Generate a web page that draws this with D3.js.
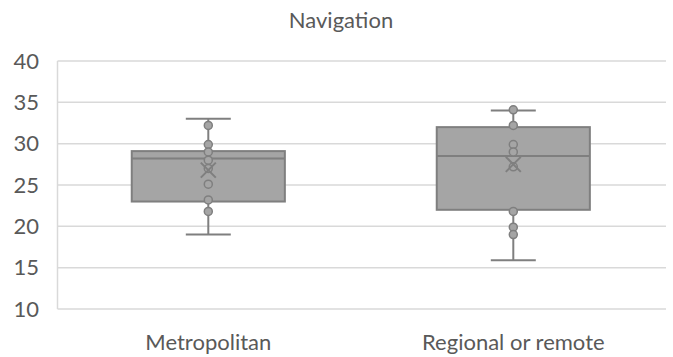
<!DOCTYPE html>
<html>
<head>
<meta charset="utf-8">
<script src="https://cdn.jsdelivr.net/npm/d3@7"></script>
<style>
  html, body { margin: 0; padding: 0; background: #fff; }
  svg { display: block; }
  text { font-family: Lato, "Open Sans", sans-serif; fill: #595959; }
</style>
</head>
<body>
<svg id="chart" width="673" height="357"></svg>
<script>
// Navigation scores by location
const categories = ["Metropolitan", "Regional or remote"];
const whiskerLow  = [19, 15.9];
const quartile1   = [23, 22];
const medians     = [28.2, 28.5];
const quartile3   = [29.1, 32];
const whiskerHigh = [33, 34];
const means       = [26.8, 27.5];
const pointsMetro    = [32.2, 29.9, 29, 28, 27, 25.1, 23.2, 21.8];
const pointsRegional = [34.1, 32.2, 29.9, 29, 27.2, 21.8, 19.9, 19];
const yTicks = [10, 15, 20, 25, 30, 35, 40];
const title = "Navigation";

const boxes = categories.map((c, i) => ({
  cat: c,
  lo: whiskerLow[i], q1: quartile1[i], med: medians[i],
  q3: quartile3[i], hi: whiskerHigh[i], mean: means[i],
  pts: i === 0 ? pointsMetro : pointsRegional
}));

const svg = d3.select("#chart");
const plotLeft = 57.5, plotRight = 666, plotTop = 61, plotBottom = 309;

const x = d3.scaleBand().domain(categories).range([55.8, 665.8]).padding(0);
const y = d3.scaleLinear().domain([10, 40]).range([plotBottom, plotTop]);

const ink = "#7f7f7f", fill = "#a5a5a5", grid = "#d9d9d9";

// title
svg.append("text")
  .attr("x", 341).attr("y", 28)
  .attr("text-anchor", "middle")
  .style("font-size", "22px")
  .text(title);

// gridlines
svg.append("g").selectAll("line").data(yTicks).join("line")
  .attr("x1", plotLeft).attr("x2", plotRight)
  .attr("y1", d => y(d)).attr("y2", d => y(d))
  .attr("stroke", grid).attr("stroke-width", 1.5);

// left axis line
svg.append("line")
  .attr("x1", plotLeft).attr("x2", plotLeft)
  .attr("y1", y(40)).attr("y2", y(10))
  .attr("stroke", grid).attr("stroke-width", 1.5);

// y axis labels
const yAxis = d3.axisLeft(y).tickValues(yTicks).tickSize(0).tickPadding(0);
const gy = svg.append("g").attr("transform", "translate(39,0)").call(yAxis);
gy.select(".domain").remove();
gy.selectAll("text")
  .attr("fill", "#595959")
  .style("font-size", "22px")
  .style("font-family", "Lato, 'Open Sans', sans-serif");

// x axis labels
const xAxis = d3.axisBottom(x).tickSize(0).tickPadding(0);
const gx = svg.append("g").attr("transform", "translate(0,334)").call(xAxis);
gx.select(".domain").remove();
gx.selectAll("text")
  .attr("fill", "#595959")
  .attr("dy", "0.71em")
  .style("font-size", "22px")
  .style("font-family", "Lato, 'Open Sans', sans-serif");

const bw = x.bandwidth();
const boxW = bw * 0.502;
const capW = bw * 0.1475;

const g = svg.append("g").selectAll("g").data(boxes).join("g")
  .attr("transform", d => `translate(${x(d.cat) + bw / 2},0)`);

// whiskers
g.append("line")
  .attr("x1", 0).attr("x2", 0)
  .attr("y1", d => y(d.q3)).attr("y2", d => y(d.hi))
  .attr("stroke", ink).attr("stroke-width", 2);
g.append("line")
  .attr("x1", 0).attr("x2", 0)
  .attr("y1", d => y(d.q1)).attr("y2", d => y(d.lo))
  .attr("stroke", ink).attr("stroke-width", 2);
g.append("line")
  .attr("x1", -capW / 2).attr("x2", capW / 2)
  .attr("y1", d => y(d.hi)).attr("y2", d => y(d.hi))
  .attr("stroke", ink).attr("stroke-width", 2);
g.append("line")
  .attr("x1", -capW / 2).attr("x2", capW / 2)
  .attr("y1", d => y(d.lo)).attr("y2", d => y(d.lo))
  .attr("stroke", ink).attr("stroke-width", 2);

// boxes
g.append("rect")
  .attr("x", -boxW / 2).attr("width", boxW)
  .attr("y", d => y(d.q3)).attr("height", d => y(d.q1) - y(d.q3))
  .attr("fill", fill).attr("stroke", ink).attr("stroke-width", 2);

// medians
g.append("line")
  .attr("x1", -boxW / 2).attr("x2", boxW / 2)
  .attr("y1", d => y(d.med)).attr("y2", d => y(d.med))
  .attr("stroke", ink).attr("stroke-width", 2);

// data points
g.selectAll("circle").data(d => d.pts).join("circle")
  .attr("cx", 0).attr("cy", v => y(v)).attr("r", 4)
  .attr("fill", fill).attr("stroke", ink).attr("stroke-width", 1.5);

// mean markers
const m = 7.5;
g.append("path")
  .attr("d", d => {
    const cy = y(d.mean);
    return `M${-m},${cy - m}L${m},${cy + m}M${-m},${cy + m}L${m},${cy - m}`;
  })
  .attr("stroke", ink).attr("stroke-width", 2).attr("fill", "none");
</script>
</body>
</html>
